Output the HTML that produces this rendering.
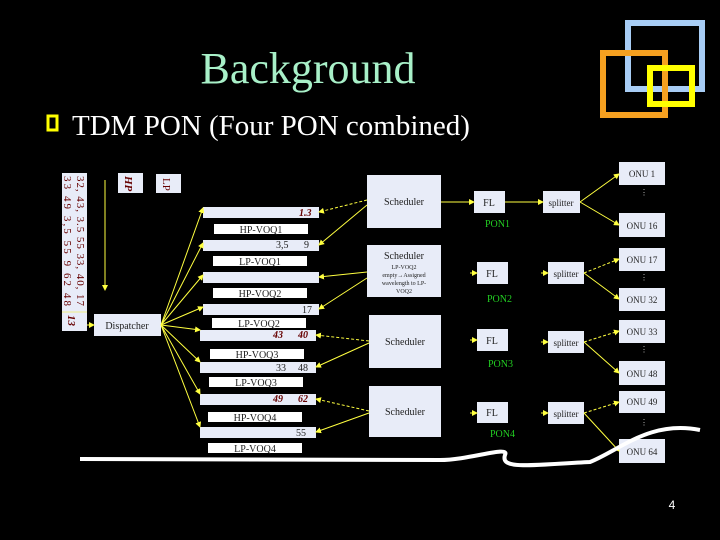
<!DOCTYPE html>
<html><head><meta charset="utf-8"><style>
body{margin:0;background:#000;width:720px;height:540px;overflow:hidden}
svg{display:block}
</style></head><body>
<svg width="720" height="540" viewBox="0 0 720 540" xmlns="http://www.w3.org/2000/svg" font-family="Liberation Serif, serif">
<defs>
<marker id="a" markerWidth="6" markerHeight="6" refX="5" refY="3" orient="auto"><path d="M0,0 L6,3 L0,6z" fill="#ffff40"/></marker>
</defs>
<rect width="720" height="540" fill="#000"/>
<rect x="628" y="23" width="74" height="66" fill="none" stroke="#a8cdf5" stroke-width="6"/>
<rect x="603" y="53" width="62" height="62" fill="none" stroke="#f5a020" stroke-width="6"/>
<rect x="650" y="68" width="42" height="36" fill="none" stroke="#ffff00" stroke-width="6"/>
<text x="308" y="83" font-size="44" fill="#a8f0c8" text-anchor="middle">Background</text>
<rect x="48" y="116" width="9" height="14" fill="none" stroke="#ffff00" stroke-width="3"/>
<text x="72" y="135" font-size="29" fill="#fff">TDM PON (Four PON combined)</text>

<g fill="#e8ecf8">
<rect x="62" y="173" width="25" height="158"/>
<rect x="118" y="173" width="25" height="20"/>
<rect x="156" y="174" width="25" height="19"/>
<rect x="94" y="314" width="67" height="22"/>
<rect x="203" y="207" width="116" height="11"/>
<rect x="203" y="240" width="116" height="11"/>
<rect x="203" y="272" width="116" height="11"/>
<rect x="203" y="304" width="116" height="11"/>
<rect x="200" y="330" width="116" height="11"/>
<rect x="200" y="362" width="116" height="11"/>
<rect x="200" y="394" width="116" height="11"/>
<rect x="200" y="427" width="116" height="11"/>
<rect x="214" y="224" width="94" height="10" fill="#fff"/>
<rect x="213" y="256" width="94" height="10" fill="#fff"/>
<rect x="213" y="288" width="94" height="10" fill="#fff"/>
<rect x="212" y="318" width="94" height="10" fill="#fff"/>
<rect x="210" y="349" width="94" height="10" fill="#fff"/>
<rect x="209" y="377" width="94" height="10" fill="#fff"/>
<rect x="208" y="412" width="94" height="10" fill="#fff"/>
<rect x="208" y="443" width="94" height="10" fill="#fff"/>
<rect x="367" y="175" width="74" height="53"/>
<rect x="367" y="245" width="74" height="52"/>
<rect x="369" y="315" width="72" height="53"/>
<rect x="369" y="386" width="72" height="51"/>
<rect x="474" y="191" width="31" height="22"/>
<rect x="477" y="262" width="31" height="22"/>
<rect x="477" y="329" width="31" height="22"/>
<rect x="477" y="402" width="31" height="21"/>
<rect x="543" y="191" width="37" height="22"/>
<rect x="548" y="262" width="36" height="22"/>
<rect x="548" y="331" width="36" height="22"/>
<rect x="548" y="402" width="36" height="22"/>
<rect x="619" y="162" width="46" height="23"/>
<rect x="619" y="213" width="46" height="24"/>
<rect x="619" y="248" width="46" height="23"/>
<rect x="619" y="288" width="46" height="23"/>
<rect x="619" y="320" width="46" height="23"/>
<rect x="619" y="361" width="46" height="24"/>
<rect x="619" y="391" width="46" height="22"/>
<rect x="619" y="439" width="46" height="24"/>
</g>
<line x1="62" y1="312" x2="87" y2="312" stroke="#ee8" stroke-width="1"/>
<g fill="#600" font-size="11">
<text transform="translate(77,176) rotate(90)" textLength="130" lengthAdjust="spacing">32, 43, 3.5 55 33, 40, 17</text>
<text transform="translate(64,176) rotate(90)" textLength="130" lengthAdjust="spacing">33 49 3,5 55 9 62 48</text>
<text transform="translate(68,315) rotate(90)" font-style="italic" font-weight="bold">13</text>
<text transform="translate(125,176) rotate(90)" font-style="italic" font-weight="bold">HP</text>
<text transform="translate(163,178) rotate(90)">LP</text>
</g>
<g font-size="10" fill="#222">
<text x="127" y="329" text-anchor="middle">Dispatcher</text>
<text x="261" y="233" text-anchor="middle">HP-VOQ1</text>
<text x="260" y="265" text-anchor="middle">LP-VOQ1</text>
<text x="260" y="297" text-anchor="middle">HP-VOQ2</text>
<text x="259" y="327" text-anchor="middle">LP-VOQ2</text>
<text x="257" y="358" text-anchor="middle">HP-VOQ3</text>
<text x="256" y="386" text-anchor="middle">LP-VOQ3</text>
<text x="255" y="421" text-anchor="middle">HP-VOQ4</text>
<text x="255" y="452" text-anchor="middle">LP-VOQ4</text>
<text x="276" y="248">3,5</text><text x="304" y="248">9</text>
<text x="302" y="313">17</text>
<text x="276" y="371">33</text><text x="298" y="371">48</text>
<text x="296" y="436">55</text>
<text x="404" y="205" text-anchor="middle">Scheduler</text>
<text x="404" y="259" text-anchor="middle">Scheduler</text>
<text x="404" y="269" text-anchor="middle" font-size="6">LP-VOQ2</text>
<text x="404" y="277" text-anchor="middle" font-size="6">empty→Assigned</text>
<text x="404" y="285" text-anchor="middle" font-size="6">wavelength to LP-</text>
<text x="404" y="293" text-anchor="middle" font-size="6">VOQ2</text>
<text x="405" y="345" text-anchor="middle">Scheduler</text>
<text x="405" y="415" text-anchor="middle">Scheduler</text>
<text x="489" y="206" text-anchor="middle">FL</text>
<text x="492" y="277" text-anchor="middle">FL</text>
<text x="492" y="344" text-anchor="middle">FL</text>
<text x="492" y="416" text-anchor="middle">FL</text>
<text x="561" y="206" text-anchor="middle" font-size="9">splitter</text>
<text x="566" y="277" text-anchor="middle" font-size="9">splitter</text>
<text x="566" y="346" text-anchor="middle" font-size="9">splitter</text>
<text x="566" y="417" text-anchor="middle" font-size="9">splitter</text>
<g text-anchor="middle" font-size="9">
<text x="642" y="177">ONU 1</text><text x="642" y="229">ONU 16</text>
<text x="642" y="263">ONU 17</text><text x="642" y="303">ONU 32</text>
<text x="642" y="335">ONU 33</text><text x="642" y="377">ONU 48</text>
<text x="642" y="405">ONU 49</text><text x="642" y="455">ONU 64</text>
</g>
</g>
<g fill="#600" font-size="10" font-style="italic" font-weight="bold">
<text x="299" y="216">1.3</text>
<text x="273" y="338">43</text><text x="298" y="338">40</text>
<text x="273" y="402">49</text><text x="298" y="402">62</text>
</g>
<g fill="#2c2" font-size="10">
<text x="485" y="227">PON1</text><text x="487" y="302">PON2</text>
<text x="488" y="367">PON3</text><text x="490" y="437">PON4</text>
</g>
<g stroke="#ffff40" stroke-width="1" fill="none" marker-end="url(#a)">
<line x1="105" y1="180" x2="105" y2="290"/>
<line x1="87" y1="325" x2="94" y2="325"/>
<line x1="161" y1="325" x2="203" y2="208"/>
<line x1="161" y1="325" x2="203" y2="243"/>
<line x1="161" y1="325" x2="203" y2="275"/>
<line x1="161" y1="325" x2="203" y2="307"/>
<line x1="161" y1="325" x2="200" y2="330"/>
<line x1="161" y1="325" x2="200" y2="362"/>
<line x1="161" y1="325" x2="200" y2="394"/>
<line x1="161" y1="325" x2="200" y2="427"/>
<line x1="367" y1="200" x2="319" y2="212" stroke-dasharray="3,2"/>
<line x1="367" y1="205" x2="319" y2="245"/>
<line x1="367" y1="272" x2="319" y2="277"/>
<line x1="367" y1="278" x2="319" y2="309"/>
<line x1="369" y1="341" x2="316" y2="335" stroke-dasharray="3,2"/>
<line x1="369" y1="343" x2="316" y2="367"/>
<line x1="369" y1="411" x2="316" y2="399" stroke-dasharray="3,2"/>
<line x1="369" y1="413" x2="316" y2="432"/>
<line x1="441" y1="202" x2="474" y2="202"/>
<line x1="505" y1="202" x2="543" y2="202"/>
<line x1="470" y1="273" x2="477" y2="273"/>
<line x1="541" y1="273" x2="548" y2="273"/>
<line x1="470" y1="340" x2="477" y2="340"/>
<line x1="541" y1="342" x2="548" y2="342"/>
<line x1="470" y1="413" x2="477" y2="413"/>
<line x1="541" y1="413" x2="548" y2="413"/>
<line x1="580" y1="202" x2="619" y2="174"/>
<line x1="580" y1="202" x2="619" y2="225"/>
<line x1="584" y1="273" x2="619" y2="259" stroke-dasharray="3,2"/>
<line x1="584" y1="273" x2="619" y2="299"/>
<line x1="584" y1="342" x2="619" y2="331" stroke-dasharray="3,2"/>
<line x1="584" y1="342" x2="619" y2="373"/>
<line x1="584" y1="413" x2="619" y2="402" stroke-dasharray="3,2"/>
<line x1="584" y1="413" x2="619" y2="451"/>
</g>
<g fill="#ccc" font-size="8"><text x="640" y="195">⋮</text><text x="640" y="280">⋮</text><text x="640" y="352">⋮</text><text x="640" y="425">⋮</text></g>
<path d="M80,459 L440,460 C470,460 510,445 505,455 C500,470 530,465 590,462 C620,450 650,420 700,430" stroke="#fff" stroke-width="4" fill="none"/>
<text x="672" y="509" font-family="Liberation Sans, sans-serif" font-size="12" fill="#fff" text-anchor="middle">4</text>
</svg>
</body></html>
